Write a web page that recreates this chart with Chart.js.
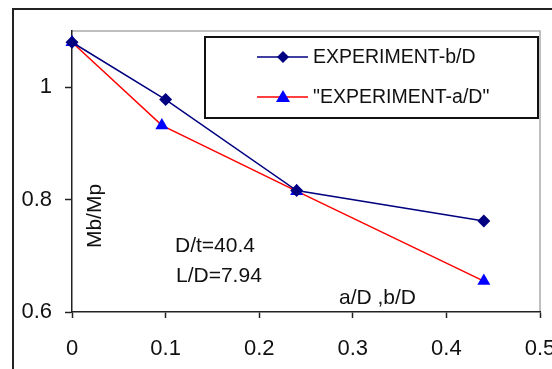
<!DOCTYPE html>
<html>
<head>
<meta charset="utf-8">
<script src="https://cdn.jsdelivr.net/npm/chart.js@4/dist/chart.umd.min.js"></script>
<style>
  html, body { margin: 0; padding: 0; background: #fff; }
  #wrap { width: 552px; height: 369px; position: relative; }
</style>
</head>
<body>
<div id="wrap"><canvas id="chart"></canvas></div>
<script>
const xB = [0, 0.1, 0.24, 0.44];
const yB = [1.08, 0.978, 0.816, 0.762];
const xA = [0, 0.096, 0.24, 0.44];
const yA = [1.08, 0.932, 0.815, 0.655];
const seriesNames = ['EXPERIMENT-b/D', '"EXPERIMENT-a/D"'];
const yTicks = [0.6, 0.8, 1.0];
const xTicks = [0, 0.1, 0.2, 0.3, 0.4, 0.5];
const notes = ['D/t=40.4', 'L/D=7.94'];
const xTitle = 'a/D ,b/D';
const yTitle = 'Mb/Mp';

const FONT = '"Liberation Sans", Arial, sans-serif';

const toPoints = (xs, ys) => xs.map((x, i) => ({ x, y: ys[i] }));

// frame, plot border, free text and the boxed legend
const decor = {
    id: 'decor',
    beforeDraw(chart) {
        const c = chart.ctx;
        const a = chart.chartArea;
        c.save();
        c.strokeStyle = '#222';
        c.lineWidth = 2;
        c.strokeRect(13, 9, 600, 400);
        c.strokeStyle = '#aaa';
        c.lineWidth = 1.5;
        c.beginPath();
        c.moveTo(a.left, a.top);
        c.lineTo(a.right, a.top);
        c.lineTo(a.right, a.bottom);
        c.stroke();
        c.restore();
    },
    afterDraw(chart) {
        const c = chart.ctx;
        c.save();
        c.fillStyle = '#111';
        c.font = '21px ' + FONT;
        c.textBaseline = 'middle';
        c.textAlign = 'left';
        c.fillText(notes[0], 175, 246);
        c.fillText(notes[1], 176, 276);
        c.fillText(xTitle, 339, 298);
        c.translate(95, 216);
        c.rotate(-Math.PI / 2);
        c.textAlign = 'center';
        c.fillText(yTitle, 0, 0);
        c.restore();

        // legend box
        c.save();
        c.fillStyle = '#fff';
        c.fillRect(205, 37, 333, 81);
        c.strokeStyle = '#111';
        c.lineWidth = 2;
        c.strokeRect(205, 37, 333, 81);
        const rows = [57, 97];
        chart.data.datasets.forEach((ds, i) => {
            const y = rows[i];
            c.strokeStyle = ds.borderColor;
            c.lineWidth = 1.5;
            c.beginPath();
            c.moveTo(257, y);
            c.lineTo(308, y);
            c.stroke();
            c.fillStyle = ds.pointBackgroundColor;
            c.beginPath();
            if (ds.pointStyle === 'rectRot') {
                c.moveTo(283, y - 6);
                c.lineTo(289, y);
                c.lineTo(283, y + 6);
                c.lineTo(277, y);
            } else {
                c.moveTo(283, y - 7);
                c.lineTo(290, y + 5);
                c.lineTo(276, y + 5);
            }
            c.closePath();
            c.fill();
            c.fillStyle = '#111';
            c.font = '19.5px ' + FONT;
            c.textBaseline = 'middle';
            c.textAlign = 'left';
            c.fillText(ds.label, 313, y + 1);
        });
        c.restore();
    }
};

new Chart(document.getElementById('chart'), {
    type: 'scatter',
    data: {
        datasets: [{
            label: seriesNames[0],
            data: toPoints(xB, yB),
            showLine: true,
            borderColor: '#000080',
            borderWidth: 1.5,
            pointStyle: 'rectRot',
            pointRadius: 6.5,
            pointBackgroundColor: '#000080',
            pointBorderColor: '#000080',
            pointBorderWidth: 0,
            clip: false
        }, {
            label: seriesNames[1],
            data: toPoints(xA, yA),
            showLine: true,
            borderColor: '#ff0000',
            borderWidth: 1.5,
            pointStyle: 'triangle',
            pointRadius: 7.5,
            pointBackgroundColor: '#0000ff',
            pointBorderColor: '#0000ff',
            pointBorderWidth: 0,
            clip: false
        }]
    },
    options: {
        responsive: true,
        maintainAspectRatio: false,
        animation: false,
        layout: { padding: { left: 0, top: 31, right: 12, bottom: 0 } },
        plugins: { legend: { display: false }, tooltip: { enabled: false } },
        scales: {
            x: {
                type: 'linear',
                min: 0,
                max: 0.5,
                afterFit: (s) => { s.height = 57; s.paddingLeft = 0; s.paddingRight = 0; },
                afterBuildTicks: (s) => { s.ticks = xTicks.map(v => ({ value: v })); },
                border: { color: '#222', width: 1.5 },
                grid: { drawOnChartArea: false, tickLength: 6, color: '#222', tickWidth: 1.5 },
                ticks: {
                    color: '#111',
                    padding: 18,
                    font: { family: FONT, size: 22 },
                    maxRotation: 0,
                    callback: (v) => String(Math.round(v * 10) / 10)
                }
            },
            y: {
                type: 'linear',
                min: 0.6,
                max: 1.1,
                afterFit: (s) => { s.width = 72; s.paddingTop = 0; s.paddingBottom = 0; },
                afterBuildTicks: (s) => { s.ticks = yTicks.map(v => ({ value: v })); },
                border: { color: '#222', width: 1.5 },
                grid: { drawOnChartArea: false, tickLength: 7, color: '#222', tickWidth: 1.5 },
                ticks: {
                    color: '#111',
                    padding: 13,
                    font: { family: FONT, size: 22 },
                    callback: (v) => String(Math.round(v * 10) / 10)
                }
            }
        }
    },
    plugins: [decor]
});
</script>
</body>
</html>
